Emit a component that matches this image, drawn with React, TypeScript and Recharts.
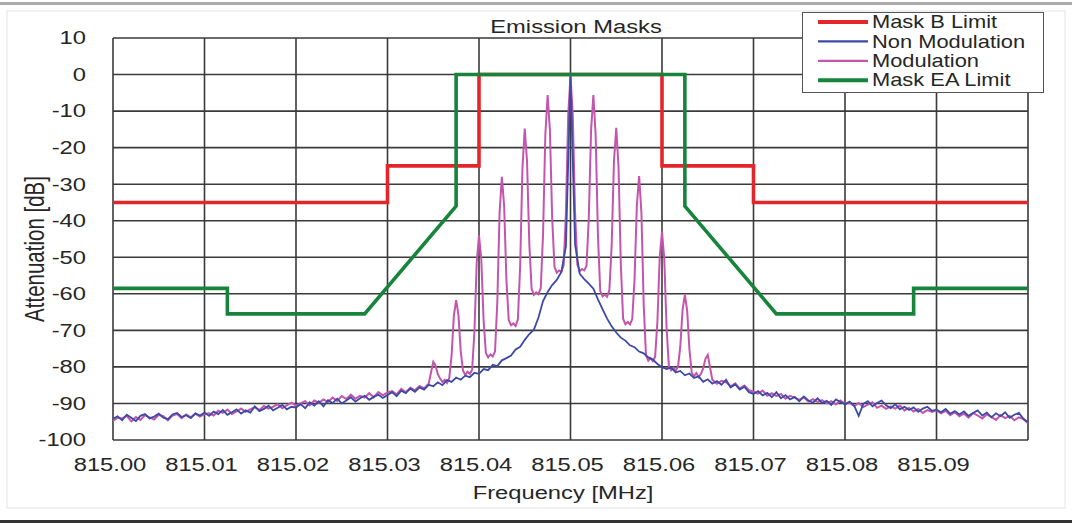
import React from 'react';
import { LineChart, Line, XAxis, YAxis, CartesianGrid, Legend, Customized } from 'recharts';

// ---------- data ----------
const FREQ_START = 815.0;
const FREQ_STEP = 0.0005;

// Non Modulation trace (815.0000 .. 815.1000 MHz, 0.5 kHz steps), dB
const nonModulation = [
  -94.2, -93.5, -94.6, -93.1, -93.9, -94.8, -93.4, -92.9, -94.1, -93.6, -92.8, -93.9, -94.3, -93.0, -92.6, -93.7, -93.2, -94.0, -92.7, -93.3, -92.5,
  -93.4, -92.2, -92.9, -91.8, -93.1, -92.4, -91.6, -92.8, -91.9, -92.5, -90.8, -92.1, -91.5, -90.6, -91.9, -91.2, -90.4, -91.6, -90.9, -91.1,
  -90.2, -91.3, -89.7, -90.6, -89.4, -90.8, -89.1, -89.9, -88.7, -90.0, -89.2, -88.3, -89.5, -88.6, -87.9, -89.0, -88.2, -87.6, -88.5, -87.7,
  -86.9, -88.0, -86.5, -87.2, -85.9, -86.8, -85.6, -86.2, -84.9, -85.3,
  -84.2, -85.0, -83.6, -84.1, -82.9, -83.5, -82.4, -82.8, -81.6, -81.9,
  -80.6, -80.9, -79.4, -79.8, -78.2, -77.6, -76.9, -75.2, -74.5, -72.6,
  -71.0, -69.8, -66.5, -62.0, -59.5, -57.6, -56.2, -54.0, -47.0, -0.5,
  -46.5, -54.5, -56.0, -57.2, -58.6, -61.5, -64.2, -66.8, -68.9, -70.6,
  -72.0, -72.8, -74.1, -74.6, -75.8, -76.3, -77.4, -78.0, -79.2, -80.1,
  -80.6, -80.2, -81.5, -81.1, -82.3, -81.8, -83.0, -82.6, -84.1, -83.4,
  -84.6, -83.9, -84.9, -83.5, -85.6, -84.8, -86.2, -85.4, -86.9, -87.4,
  -86.6, -87.8, -87.1, -88.3, -86.9, -88.6, -87.7, -88.9, -88.2, -89.4, -88.1, -89.2, -89.8, -88.6, -89.9, -89.3, -90.4, -88.9, -89.6, -90.2,
  -89.5, -90.6, -93.4, -90.1, -89.4, -90.8, -89.9, -89.2, -90.5, -91.3, -90.2, -91.6, -90.9, -91.8, -91.1, -92.3, -91.4, -90.9, -92.0, -91.7,
  -92.4, -91.5, -92.8, -92.1, -93.0, -92.2, -93.4, -92.6, -91.9, -93.3, -92.5, -93.8, -92.7, -93.5, -92.4, -93.9, -93.1, -92.6, -94.2, -95.1,
];

// Modulation trace, left noise part: 815.0000 .. 815.0345 MHz, 0.5 kHz steps
const modulationLeft = [
  -94.8, -93.9, -94.1, -93.4, -94.9, -93.7, -94.5, -93.2, -93.8, -94.4, -93.1, -93.5, -94.6, -93.3, -92.9, -94.0, -93.0, -93.8, -92.8, -93.6, -92.9,
  -92.7, -93.3, -92.0, -92.6, -91.7, -92.9, -92.2, -91.4, -92.3, -91.6, -91.0, -91.8, -90.7, -91.4, -90.9, -90.2, -91.3, -90.5, -89.8, -90.6,
  -90.0, -89.4, -90.5, -89.2, -89.8, -88.9, -89.6, -88.4, -89.3, -88.0, -88.8, -87.6, -88.7, -87.9, -88.4, -87.2, -88.3, -86.9, -87.8, -87.0,
  -86.6, -87.5, -86.0, -86.9, -85.7, -86.4, -85.2, -85.9, -84.6,
];
// Modulation trace, centre part with sidebands: 815.0350 .. 815.0650 MHz, 0.25 kHz steps
const CENTER_START = 815.035;
const CENTER_STEP = 0.00025;
const modulationCenter = [
  -78.6, -79.6, -82.0, -83.2, -84.1, -83.5, -84.4, -83.0, -77.0, -66.1,
  -61.7, -65.7, -75.6, -81.0, -82.2, -81.3, -81.9, -80.8, -70.3, -51.5,
  -44.0, -50.6, -67.1, -76.2, -77.4, -76.6, -77.1, -75.8, -62.3, -37.8,
  -28.0, -36.1, -56.4, -67.2, -68.6, -68.1, -68.8, -67.0, -52.4, -25.5,
  -14.8, -23.8, -46.4, -58.6, -60.3, -59.6, -60.1, -58.4, -43.7, -16.5,
  -5.6, -15.3, -39.5, -52.6, -54.2, -53.6, -54.0, -52.2, -37.9, -11.0,
  -0.3, -11.0, -37.9, -52.0, -53.8, -53.2, -53.6, -52.4, -39.1, -15.2,
  -5.6, -16.6, -44.0, -59.2, -60.7, -60.2, -60.8, -59.0, -46.7, -23.8,
  -14.6, -25.3, -52.0, -66.8, -68.3, -67.7, -68.4, -66.9, -56.0, -35.8,
  -27.8, -37.8, -62.9, -76.8, -78.3, -77.6, -78.4, -77.2, -67.5, -50.0,
  -43.0, -50.5, -69.3, -79.8, -80.9, -80.2, -81.0, -80.0, -74.4, -64.3,
  -60.3, -64.6, -75.3, -81.6, -82.5, -81.7, -82.8, -81.9, -80.4, -77.8,
  -76.7,
];
// Modulation trace, right noise part: 815.0655 .. 815.1000 MHz, 0.5 kHz steps
const RIGHT_START = 815.0655;
const modulationRight = [
  -83.5, -84.6, -83.8, -84.2, -85.3, -84.5, -85.9, -85.1, -86.4, -86.8,
  -87.3, -86.5, -87.9, -87.2, -88.0, -87.4, -88.7, -87.9, -88.4, -89.0, -88.3, -89.5, -88.8, -89.6, -89.1, -90.0, -89.4, -90.3, -89.2, -90.1,
  -89.8, -90.7, -89.9, -91.0, -90.3, -89.7, -91.2, -90.6, -91.5, -90.8, -91.4, -90.6, -91.9, -91.2, -92.2, -91.5, -92.6, -91.8, -92.3, -91.9,
  -92.7, -92.0, -93.2, -92.4, -93.5, -92.8, -93.9, -92.6, -93.3, -94.1, -93.0, -93.7, -94.5, -93.2, -94.0, -93.4, -94.6, -93.8, -94.3, -95.4,
];

// Mask B Limit
const maskBFreq = [815.0, 815.03, 815.03, 815.04, 815.04, 815.06, 815.06, 815.07, 815.07, 815.1];
const maskBLevel = [-35, -35, -25, -25, 0, 0, -25, -25, -35, -35];

// Mask EA Limit
const maskEAFreq = [815.0, 815.0125, 815.0125, 815.0275, 815.0375, 815.0375, 815.0625, 815.0625, 815.0725, 815.0875, 815.0875, 815.1];
const maskEALevel = [-58.5, -58.5, -65.5, -65.5, -36, 0, 0, -36, -65.5, -65.5, -58.5, -58.5];

const xTicks = [815.0, 815.01, 815.02, 815.03, 815.04, 815.05, 815.06, 815.07, 815.08, 815.09, 815.1];
const xTickLabels = ['815.00', '815.01', '815.02', '815.03', '815.04', '815.05', '815.06', '815.07', '815.08', '815.09', ''];
const yTicks = [-100, -90, -80, -70, -60, -50, -40, -30, -20, -10, 0, 10];

const TITLE = 'Emission Masks';
const X_TITLE = 'Frequency [MHz]';
const Y_TITLE = 'Attenuation [dB]';

// ---------- styling ----------
const RED = '#e3262b';
const BLUE = '#3c4aa6';
const PINK = '#c455ad';
const GREEN = '#17843c';
const FONT = 'Arial, "Liberation Sans", Helvetica, sans-serif';
const SX = 1.32;
const TEXT = '#262626';

const spectrum = nonModulation.map((v, i) => ({ f: FREQ_START + i * FREQ_STEP, non: v }));
const modSeries = [
  ...modulationLeft.map((v, i) => ({ f: FREQ_START + i * FREQ_STEP, mod: v })),
  ...modulationCenter.map((v, i) => ({ f: CENTER_START + i * CENTER_STEP, mod: v })),
  ...modulationRight.map((v, i) => ({ f: RIGHT_START + i * FREQ_STEP, mod: v })),
];
const maskB = maskBFreq.map((f, i) => ({ f, level: maskBLevel[i] }));
const maskEA = maskEAFreq.map((f, i) => ({ f, level: maskEALevel[i] }));

const legendItems = [
  { name: 'Mask B Limit', color: RED, w: 4 },
  { name: 'Non Modulation', color: BLUE, w: 2.2 },
  { name: 'Modulation', color: PINK, w: 2.2 },
  { name: 'Mask EA Limit', color: GREEN, w: 4 },
];

function SText(props: any) {
  const { x, y, anchor = 'middle', size = 18, sx = SX, rotate = false, children } = props;
  return (
    <text
      transform={`translate(${x},${y}) scale(${sx},1)${rotate ? ' rotate(-90)' : ''}`}
      textAnchor={anchor}
      dominantBaseline="central"
      fontSize={size}
      fontFamily={FONT}
      fill={TEXT}
    >
      {children}
    </text>
  );
}

const XTick = (props: any) => {
  const { x, payload } = props;
  const idx = xTicks.findIndex((t) => Math.abs(t - payload.value) < 1e-9);
  const label = idx >= 0 ? xTickLabels[idx] : '';
  return <SText x={x - 3} y={465}>{label}</SText>;
};

const YTick = (props: any) => {
  const { y, payload } = props;
  return <SText x={86} y={y} anchor="end">{String(payload.value)}</SText>;
};

const LegendBox = () => (
  <svg width={243} height={82} style={{ display: 'block' }}>
    <rect x={0.5} y={0.5} width={241} height={80} fill="#fff" stroke="#555" strokeWidth={1} />
    {legendItems.map((it, i) => {
      const cy = 10 + i * 19.4;
      return (
        <g key={it.name}>
          <line x1={16} x2={66} y1={cy} y2={cy} stroke={it.color} strokeWidth={it.w} />
          <text
            transform={`translate(70,${cy}) scale(1.25,1)`}
            dominantBaseline="central"
            fontSize={17.5}
            fontFamily={FONT}
            fill={TEXT}
          >
            {it.name}
          </text>
        </g>
      );
    })}
  </svg>
);

const Decor = () => (
  <g>
    <rect x={0} y={2} width={1072} height={3} fill="#aaaaaa" />
    <rect x={7} y={11} width={1058} height={497} fill="none" stroke="#e4e4e4" strokeWidth={1} />
    <rect x={0} y={520} width={1072} height={3} fill="#333333" />
    <SText x={576} y={27}>{TITLE}</SText>
    <SText x={563} y={493}>{X_TITLE}</SText>
    <SText x={34} y={249} size={20.5} rotate>{Y_TITLE}</SText>
  </g>
);

export default function App() {
  return (
    <div style={{ position: 'absolute', left: 0, top: 0, width: 1072, height: 523, background: '#fff' }}>
      <LineChart
        width={1072}
        height={523}
        data={spectrum}
        margin={{ top: 38, right: 44, bottom: 33, left: 13 }}
      >
        <CartesianGrid stroke="#3a3a3a" strokeWidth={1.6} />
        <XAxis
          dataKey="f"
          type="number"
          domain={[815.0, 815.1]}
          ticks={xTicks}
          allowDataOverflow
          axisLine={false}
          tickLine={false}
          height={50}
          tick={<XTick />}
          interval={0}
        />
        <YAxis
          type="number"
          domain={[-100, 10]}
          ticks={yTicks}
          allowDataOverflow
          axisLine={false}
          tickLine={false}
          width={100}
          tick={<YTick />}
          interval={0}
        />
        <Line data={maskB} dataKey="level" type="linear" stroke={RED} strokeWidth={3.6} dot={false} isAnimationActive={false} />
        <Line data={modSeries} dataKey="mod" type="linear" stroke={PINK} strokeWidth={2} dot={false} isAnimationActive={false} />
        <Line dataKey="non" type="linear" stroke={BLUE} strokeWidth={1.8} dot={false} isAnimationActive={false} />
        <Line data={maskEA} dataKey="level" type="linear" stroke={GREEN} strokeWidth={3.6} dot={false} isAnimationActive={false} />
        <Legend
          layout="horizontal"
          verticalAlign="middle"
          align="center"
          content={LegendBox}
          wrapperStyle={{ position: 'absolute', left: 802, top: 12, width: 243, height: 82 }}
        />
        <Customized component={Decor} />
      </LineChart>
    </div>
  );
}
